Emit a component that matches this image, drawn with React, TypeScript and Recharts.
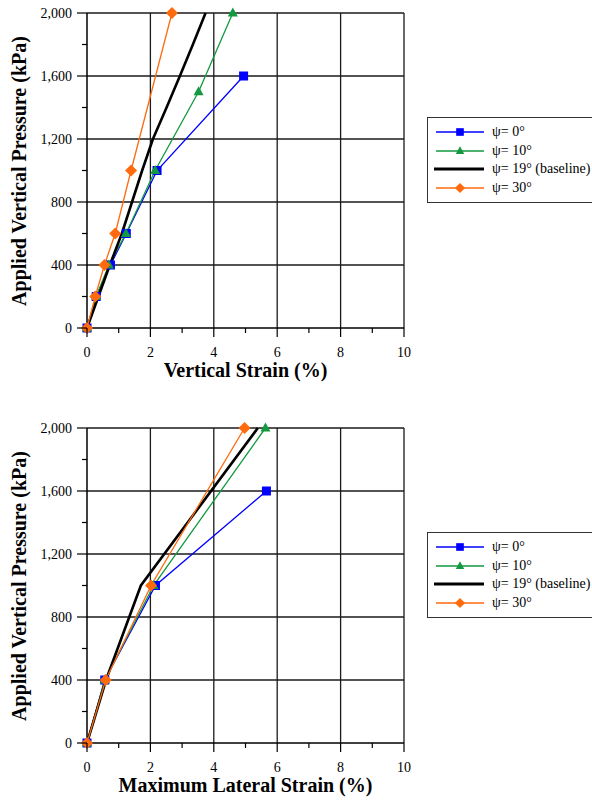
import React from 'react'
import { LineChart, Line, XAxis, YAxis, ReferenceLine } from 'recharts'

// Top chart: vertical strain (%) vs applied vertical pressure (kPa)
const topPressure0 = [0, 200, 400, 600, 1000, 1600]
const topStrain0 = [0, 0.29, 0.74, 1.24, 2.21, 4.94]
const topPressure10 = [0, 200, 400, 600, 1000, 1500, 2000]
const topStrain10 = [0, 0.29, 0.69, 1.23, 2.15, 3.52, 4.6]
const topPressure19 = [0, 200, 400, 600, 800, 1000, 1200, 1400, 1600, 1800, 2000]
const topStrain19 = [0, 0.36, 0.72, 1.1, 1.42, 1.74, 2.08, 2.51, 2.93, 3.34, 3.74]
const topPressure30 = [0, 200, 400, 600, 1000, 2000]
const topStrain30 = [0, 0.26, 0.55, 0.89, 1.39, 2.68]

// Bottom chart: maximum lateral strain (%) vs applied vertical pressure (kPa)
const botPressure0 = [0, 400, 1000, 1600]
const botStrain0 = [0, 0.56, 2.16, 5.66]
const botPressure10 = [0, 400, 1000, 2000]
const botStrain10 = [0, 0.56, 2.1, 5.63]
const botPressure19 = [0, 400, 1000, 2000]
const botStrain19 = [0, 0.6, 1.7, 5.39]
const botPressure30 = [0, 400, 1000, 2000]
const botStrain30 = [0, 0.59, 2.02, 4.97]

const xTicks = [0, 1, 2, 3, 4, 5, 6, 7, 8, 9, 10]
const yTicks = [0, 200, 400, 600, 800, 1000, 1200, 1400, 1600, 1800, 2000]
const xGrid = [2, 4, 6, 8, 10]
const yGrid = [400, 800, 1200, 1600, 2000]

const seriesNames = ['ψ= 0°', 'ψ= 10°', 'ψ= 19° (baseline)', 'ψ= 30°']

const FONT = '"Liberation Serif", "Times New Roman", serif'

type Shape = 'square' | 'triangle' | 'none' | 'diamond'

const styles: { color: string; width: number; shape: Shape }[] = [
  { color: '#0000ff', width: 1.3, shape: 'square' },
  { color: '#13993f', width: 1.3, shape: 'triangle' },
  { color: '#000000', width: 2.6, shape: 'none' },
  { color: '#ff6a0d', width: 1.3, shape: 'diamond' },
]

const zip = (xs: number[], ys: number[]) => xs.map((x, i) => ({ x, y: ys[i] }))

function marker(shape: Shape, color: string, cx: number, cy: number, key?: string, r = 1) {
  if (shape === 'square') return <rect key={key} x={cx - 4.5 * r} y={cy - 4.5 * r} width={9 * r} height={9 * r} fill={color} />
  if (shape === 'triangle')
    return <polygon key={key} points={`${cx},${cy - 5.5 * r} ${cx + 5 * r},${cy + 3.5 * r} ${cx - 5 * r},${cy + 3.5 * r}`} fill={color} />
  if (shape === 'diamond')
    return <polygon key={key} points={`${cx},${cy - 6 * r} ${cx + 6 * r},${cy} ${cx},${cy + 6 * r} ${cx - 6 * r},${cy}`} fill={color} />
  return <g key={key} />
}

const XTick = (props: any) => {
  const { x, y, payload } = props
  const v = payload.value
  const major = v % 2 === 0
  return (
    <g>
      <line x1={x} x2={x} y1={y} y2={y + (major ? 9 : 5)} stroke="#000" strokeWidth={1.2} />
      {major && (
        <text x={x} y={y + 19} dy="0.71em" textAnchor="middle" fontFamily={FONT} fontSize={14} fill="#000">
          {v}
        </text>
      )}
    </g>
  )
}

const YTick = (props: any) => {
  const { x, y, payload } = props
  const v = payload.value
  const major = v % 400 === 0
  return (
    <g>
      <line x1={x - (major ? 10 : 5)} x2={x} y1={y} y2={y} stroke="#000" strokeWidth={1.2} />
      {major && (
        <text x={x - 15} y={y} dy="0.35em" textAnchor="end" fontFamily={FONT} fontSize={14} fill="#000">
          {v.toLocaleString('en-US')}
        </text>
      )}
    </g>
  )
}

interface PanelProps {
  top: number
  xTitle: string
  data: { x: number; y: number }[][]
}

function Panel({ top, xTitle, data }: PanelProps) {
  return (
    <div style={{ position: 'absolute', left: 0, top }}>
      <LineChart width={420} height={400} margin={{ top: 13, right: 16, left: 0, bottom: 0 }}>
        <XAxis
          type="number"
          dataKey="x"
          domain={[0, 10]}
          ticks={xTicks}
          interval={0}
          height={72}
          tickSize={0}
          tickMargin={0}
          tickLine={false}
          tick={<XTick />}
          axisLine={{ stroke: '#000', strokeWidth: 1.5 }}
          label={{
            content: (p: any) => {
              const vb = p.viewBox
              return (
                <text x={vb.x + vb.width / 2} y={vb.y + 49} textAnchor="middle" fontFamily={FONT} fontSize={20} fontWeight="bold" fill="#000">
                  {xTitle}
                </text>
              )
            },
          }}
        />
        <YAxis
          type="number"
          dataKey="y"
          domain={[0, 2000]}
          ticks={yTicks}
          interval={0}
          width={87}
          tickSize={0}
          tickMargin={0}
          tickLine={false}
          tick={<YTick />}
          axisLine={{ stroke: '#000', strokeWidth: 1.5 }}
          label={{
            content: () => (
              <text x={26} y={171} transform="rotate(-90 26 171)" textAnchor="middle" fontFamily={FONT} fontSize={20} fontWeight="bold" fill="#000">
                Applied Vertical Pressure (kPa)
              </text>
            ),
          }}
        />
        {xGrid.map(v => (
          <ReferenceLine key={`gx${v}`} x={v} stroke="#1a1a1a" strokeWidth={1.3} />
        ))}
        {yGrid.map(v => (
          <ReferenceLine key={`gy${v}`} y={v} stroke="#1a1a1a" strokeWidth={1.3} />
        ))}
        {data.map((d, i) => {
          const s = styles[i]
          return (
            <Line
              key={seriesNames[i]}
              data={d}
              dataKey="y"
              name={seriesNames[i]}
              type="linear"
              stroke={s.color}
              strokeWidth={s.width}
              dot={s.shape === 'none' ? false : (p: any) => marker(s.shape, s.color, p.cx, p.cy, `d${i}-${p.index}`)}
              activeDot={false}
              isAnimationActive={false}
            />
          )
        })}
      </LineChart>
    </div>
  )
}

function LegendBox({ top }: { top: number }) {
  return (
    <div
      style={{
        position: 'absolute',
        left: 427,
        top,
        width: 200,
        height: 86,
        border: '1px solid #333',
        boxSizing: 'border-box',
        background: '#fff',
      }}
    >
      {seriesNames.map((name, i) => {
        const s = styles[i]
        return (
          <div key={name} style={{ position: 'absolute', left: 5, top: 14 + i * 18.7 - 9, height: 18, display: 'flex', alignItems: 'center' }}>
            <svg width={52} height={18}>
              <line x1={s.shape === 'none' ? 1 : 3} x2={51} y1={9} y2={9} stroke={s.color} strokeWidth={s.shape === 'none' ? 3 : 1.5} />
              {marker(s.shape, s.color, 27, 9, undefined, 0.85)}
            </svg>
            <span style={{ marginLeft: 7, fontFamily: FONT, fontSize: 14, whiteSpace: 'nowrap', color: '#000' }}>{name}</span>
          </div>
        )
      })}
    </div>
  )
}

export default function App() {
  const topData = [
    zip(topStrain0, topPressure0),
    zip(topStrain10, topPressure10),
    zip(topStrain19, topPressure19),
    zip(topStrain30, topPressure30),
  ]
  const botData = [
    zip(botStrain0, botPressure0),
    zip(botStrain10, botPressure10),
    zip(botStrain19, botPressure19),
    zip(botStrain30, botPressure30),
  ]
  return (
    <div style={{ position: 'absolute', left: 0, top: 0, width: 592, height: 800, overflow: 'hidden', background: '#fff' }}>
      <Panel top={0} xTitle="Vertical Strain (%)" data={topData} />
      <LegendBox top={117} />
      <Panel top={415} xTitle="Maximum Lateral Strain (%)" data={botData} />
      <LegendBox top={532} />
    </div>
  )
}
